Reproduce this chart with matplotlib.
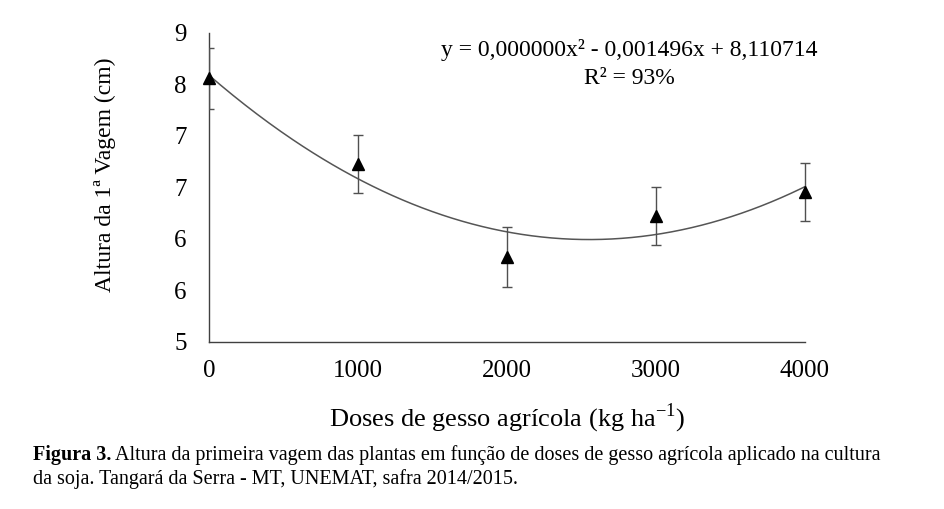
import numpy as np
import matplotlib
matplotlib.use("Agg")
import matplotlib.pyplot as plt
from matplotlib.patches import Rectangle

# Data
doses = [0, 1000, 2000, 3000, 4000]
altura = [8.07, 7.075, 5.99, 6.47, 6.75]
erro = [0.35, 0.34, 0.35, 0.34, 0.34]
y_ticks = [5.0, 5.6, 6.2, 6.8, 7.4, 8.0, 8.6]
y_tick_labels = ["5", "6", "6", "7", "7", "8", "9"]
x_ticks = [0, 1000, 2000, 3000, 4000]
x_tick_labels = ["0", "1000", "2000", "3000", "4000"]

plt.rcParams['font.family'] = ['Liberation Serif', 'DejaVu Serif']
plt.rcParams['mathtext.fontset'] = 'custom'
plt.rcParams['mathtext.rm'] = 'Liberation Serif'

W, H = 945, 509
fig = plt.figure(figsize=(W / 100, H / 100), dpi=100)
ax = fig.add_axes([209 / W, 1 - 342 / H, (805 - 209) / W, (342 - 33) / H])

# trend line (quadratic least-squares fit)
coef = np.polyfit(doses, altura, 2)
xs = np.linspace(0, 4000, 300)
ax.plot(xs, np.polyval(coef, xs), color='#555555', lw=1.1, zorder=2)

eb = ax.errorbar(doses, altura, yerr=erro, fmt='none', ecolor='#505050',
                 elinewidth=1.0, capsize=3.5, capthick=1.0, zorder=3)
clip = Rectangle((0, -0.1), 1.1, 1.2, transform=ax.transAxes, visible=False)
ax.add_patch(clip)
for art in eb.lines[1] + eb.lines[2]:
    art.set_clip_path(clip)
ax.plot(doses, altura, linestyle='none', marker='^', color='black',
        markersize=9, zorder=4, clip_on=False)

ax.set_xlim(0, 4000)
ax.set_ylim(5.0, 8.6)
ax.set_xticks(x_ticks)
ax.set_xticklabels(x_tick_labels)
ax.set_yticks(y_ticks)
ax.set_yticklabels(y_tick_labels)
ax.tick_params(axis='both', length=0, labelsize=18)
ax.tick_params(axis='y', pad=16)
ax.tick_params(axis='x', pad=13)
for s in ['top', 'right']:
    ax.spines[s].set_visible(False)
for s in ['left', 'bottom']:
    ax.spines[s].set_color('#404040')
    ax.spines[s].set_linewidth(1.0)

ax.set_ylabel('Altura da 1ª Vagem (cm)', fontsize=17)
ax.yaxis.set_label_coords(-0.156, 0.54)
ax.set_xlabel('Doses de gesso agrícola (kg ha$^{-1}$)', fontsize=19, labelpad=14)

fig.text(629 / W, 1 - 50 / H, 'y = 0,000000x² - 0,001496x + 8,110714',
         fontsize=17, ha='center', va='center')
fig.text(629 / W, 1 - 78 / H, 'R² = 93%', fontsize=17, ha='center', va='center')

# caption
fig.canvas.draw()
r = fig.canvas.get_renderer()
t1 = fig.text(33 / W, 1 - 455 / H, 'Figura 3.', fontsize=14.5, fontweight='bold',
              ha='left', va='center')
bb = t1.get_window_extent(r)
fig.text((bb.x1 + 4) / W, 1 - 455 / H,
         'Altura da primeira vagem das plantas em função de doses de gesso agrícola aplicado na cultura',
         fontsize=14.5, ha='left', va='center')
fig.text(33 / W, 1 - 479 / H,
         'da soja. Tangará da Serra - MT, UNEMAT, safra 2014/2015.',
         fontsize=14.5, ha='left', va='center')

fig.savefig('out.png', dpi=100)
